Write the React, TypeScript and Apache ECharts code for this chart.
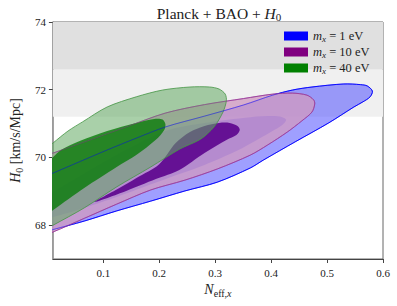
import React, { useEffect, useRef } from 'react';
import * as echarts from 'echarts';

// ---- data ----
const masses = [1, 10, 40];
const seriesNames = masses.map((m) => `m_x = ${m} eV`);
const xTicks = [0.1, 0.2, 0.3, 0.4, 0.5, 0.6];
const yTicks = [68, 70, 72, 74];
const xRange = [0.01, 0.6];
const yRange = [67, 74];
const h0Band2sigma = [71.2, 72.6];
const h0Band1sigma = [72.6, 74];

// contour outlines (N_eff,x , H0)
const blue2sigma = [
  [-0.03, 69.25], [0.0105, 69.54], [0.107, 70.22], [0.159, 70.57], [0.211, 70.9], [0.281, 71.22],
  [0.351, 71.55], [0.403, 71.84], [0.438, 71.99], [0.473, 72.08], [0.53, 72.17], [0.56, 72.15],
  [0.572, 72.11], [0.581, 71.96], [0.577, 71.79], [0.564, 71.64], [0.548, 71.49], [0.503, 71.02],
  [0.443, 70.46], [0.386, 69.92], [0.363, 69.69], [0.304, 69.27], [0.246, 69.01], [0.185, 68.71],
  [0.124, 68.42], [0.066, 68.12], [0.0105, 67.87], [-0.03, 67.69],
];
const blue1sigma = [
  [-0.03, 68.58], [0.0105, 68.98], [0.107, 69.92], [0.211, 70.78], [0.281, 71.02], [0.363, 71.19],
  [0.403, 71.22], [0.42, 71.19], [0.427, 71.11], [0.42, 70.96], [0.38, 70.57], [0.338, 70.19],
  [0.281, 69.78], [0.236, 69.51], [0.183, 69.19], [0.124, 68.83], [0.066, 68.51], [0.0105, 68.24],
  [-0.03, 68.05],
];
const purple2sigma = [
  [-0.03, 69.89], [0.0105, 70.13], [0.072, 70.49], [0.141, 70.9], [0.211, 71.31], [0.281, 71.56],
  [0.351, 71.74], [0.403, 71.87], [0.438, 71.9], [0.464, 71.84], [0.476, 71.7], [0.478, 71.58],
  [0.473, 71.34], [0.455, 71.08], [0.429, 70.75], [0.394, 70.37], [0.363, 70.07], [0.304, 69.66],
  [0.246, 69.33], [0.185, 69.04], [0.124, 68.62], [0.066, 68.2], [0.0105, 67.8], [-0.03, 67.55],
];
const purple1sigma = [
  [0.084, 68.68], [0.124, 69.05], [0.16, 69.4], [0.2, 69.8], [0.229, 70.42], [0.255, 70.75],
  [0.281, 70.93], [0.307, 71.02], [0.326, 71.02], [0.34, 70.93], [0.344, 70.81], [0.338, 70.66],
  [0.321, 70.52], [0.281, 70.13], [0.236, 69.63], [0.194, 69.36], [0.141, 69.01],
];
const green2sigma = [
  [-0.03, 69.88], [0.0105, 70.43], [0.037, 70.78], [0.063, 71.05], [0.107, 71.49], [0.159, 71.79],
  [0.206, 71.99], [0.255, 72.08], [0.29, 72.08], [0.307, 72.02], [0.318, 71.87], [0.32, 71.67],
  [0.314, 71.34], [0.298, 70.9], [0.274, 70.54], [0.237, 70.25], [0.185, 69.72], [0.124, 69.13],
  [0.066, 68.51], [0.0105, 68.0], [-0.03, 67.64],
];
const green1sigma = [
  [-0.03, 69.41], [0.0105, 70.01], [0.0245, 70.22], [0.059, 70.49], [0.107, 70.78], [0.159, 71.02],
  [0.194, 71.14], [0.206, 71.12], [0.211, 70.99], [0.209, 70.81], [0.194, 70.52], [0.159, 70.07],
  [0.124, 69.72], [0.066, 69.1], [0.0105, 68.45], [-0.03, 67.98],
];

const FONT = "'Liberation Serif', 'DejaVu Serif', serif";

const styles = [
  { legend: '#0000ff', fill2: 'rgba(80,80,255,0.55)', fill1: 'rgba(0,0,255,0.45)', stroke: '#0000ff', overlay: 'rgba(0,0,255,0.55)' },
  { legend: '#800080', fill2: 'rgba(207,154,194,0.78)', fill1: 'rgba(90,0,140,0.88)', stroke: '#a040a0', overlay: 'rgba(150,60,150,0.55)' },
  { legend: '#008000', fill2: 'rgba(98,169,98,0.55)', fill1: 'rgba(0,120,0,0.75)', stroke: 'rgba(70,150,70,0.9)', overlay: null },
];
const contours = [
  [blue2sigma, blue1sigma],
  [purple2sigma, purple1sigma],
  [green2sigma, green1sigma],
];

function contourSeries(i: number) {
  const [outer, inner] = contours[i];
  const st = styles[i];
  return {
    type: 'custom',
    name: seriesNames[i],
    coordinateSystem: 'cartesian2d',
    clip: true,
    z: 2,
    silent: true,
    itemStyle: { color: st.legend },
    data: [outer[1]],
    encode: { x: 0, y: 1 },
    renderItem: (_params: any, api: any) => {
      const p2 = outer.map((pt) => api.coord(pt));
      const p1 = inner.map((pt) => api.coord(pt));
      return {
        type: 'group',
        children: [
          { type: 'polygon', shape: { points: p2, smooth: 0.3 }, style: { fill: st.fill2, stroke: st.stroke, lineWidth: 0.9 } },
          { type: 'polygon', shape: { points: p1, smooth: 0.3 }, style: { fill: st.fill1, stroke: 'none' } },
        ],
      };
    },
  };
}

function overlaySeries(i: number) {
  const [outer] = contours[i];
  const st = styles[i];
  return {
    type: 'custom',
    name: 'overlay' + i,
    coordinateSystem: 'cartesian2d',
    clip: true,
    z: 3,
    silent: true,
    data: [outer[1]],
    encode: { x: 0, y: 1 },
    renderItem: (_params: any, api: any) => ({
      type: 'polygon',
      shape: { points: outer.map((pt) => api.coord(pt)), smooth: 0.3 },
      style: { fill: 'none', stroke: st.overlay, lineWidth: 0.8 },
    }),
  };
}

const makeRich = (big: number, small: number, drop: number, lh: number) => ({
  n: { fontFamily: FONT, fontSize: big, fontWeight: 'normal', color: '#222', verticalAlign: 'top', lineHeight: lh },
  i: { fontFamily: FONT, fontSize: big, fontWeight: 'normal', fontStyle: 'italic', color: '#222', verticalAlign: 'top', lineHeight: lh },
  s: { fontFamily: FONT, fontSize: small, fontWeight: 'normal', color: '#222', verticalAlign: 'bottom', padding: [drop, 0, 0, 0] },
  si: { fontFamily: FONT, fontSize: small, fontWeight: 'normal', fontStyle: 'italic', color: '#222', verticalAlign: 'bottom', padding: [drop, 0, 0, 0] },
});
const richTitle = makeRich(15.5, 11, 5, 17);
const richAxis = makeRich(14, 10, 5, 16);
const richLegend = makeRich(12.5, 9, 4, 14);

export default function App() {
  const ref = useRef<HTMLDivElement>(null);
  useEffect(() => {
    if (!ref.current) return;
    const chart = echarts.init(ref.current, null, { renderer: 'svg' });
    const option: any = {
      animation: false,
      backgroundColor: '#ffffff',
      title: {
        text: '{n|Planck + BAO + }{i|H}{s|0}',
        left: 214,
        textAlign: 'center',
        top: 0,
        textStyle: { rich: richTitle, fontFamily: FONT, fontSize: 15.5, fontWeight: 'normal' },
      },
      legend: {
        data: seriesNames,
        orient: 'vertical',
        left: 284,
        top: 29,
        padding: 0,
        icon: 'rect',
        itemWidth: 24,
        itemHeight: 9,
        itemGap: 2,
        selectedMode: false,
        itemStyle: { borderWidth: 0 },
        textStyle: { rich: richLegend, fontFamily: FONT, fontSize: 12.5 },
        formatter: (name: string) => {
          const idx = seriesNames.indexOf(name);
          return `{i|m}{si|x}{n| = ${masses[idx]} eV}`;
        },
      },
      grid: {
        left: 45, right: 14, top: 22, bottom: 47,
        show: true, borderColor: '#666', borderWidth: 1, backgroundColor: 'transparent',
      },
      xAxis: {
        type: 'value',
        min: xRange[0],
        max: xRange[1],
        name: '{i|N}{s|eff,}{si|x}',
        nameLocation: 'middle',
        nameGap: 22,
        nameTextStyle: { rich: richAxis, fontFamily: FONT, fontSize: 14 },
        axisLine: { show: true, onZero: false, lineStyle: { color: '#444', width: 1 } },
        axisTick: { show: true, inside: false, length: 4, customValues: xTicks, lineStyle: { color: '#444' } },
        axisLabel: { customValues: xTicks, margin: 8, fontFamily: FONT, fontSize: 11, color: '#222', formatter: (v: number) => v.toFixed(1) },
        splitLine: { show: false },
      },
      yAxis: {
        type: 'value',
        min: yRange[0],
        max: yRange[1],
        name: '{i|H}{s|0}{n| [km/s/Mpc]}',
        nameLocation: 'middle',
        nameRotate: 90,
        nameGap: 27,
        nameTextStyle: { rich: richAxis, fontFamily: FONT, fontSize: 14 },
        axisLine: { show: true, onZero: false, lineStyle: { color: '#999', width: 1.5 } },
        axisTick: { show: true, inside: false, length: 4, customValues: yTicks, lineStyle: { color: '#444' } },
        axisLabel: { customValues: yTicks, margin: 7, fontFamily: FONT, fontSize: 11, color: '#222' },
        splitLine: { show: false },
      },
      series: [
        {
          type: 'line',
          name: 'bands',
          data: [],
          z: 1,
          silent: true,
          markArea: {
            silent: true,
            data: [
              [{ yAxis: h0Band2sigma[0], itemStyle: { color: '#f0f0f0' } }, { yAxis: h0Band2sigma[1] }],
              [{ yAxis: h0Band1sigma[0], itemStyle: { color: '#e0e0e0' } }, { yAxis: h0Band1sigma[1] }],
            ],
          },
        },
        contourSeries(0),
        contourSeries(1),
        contourSeries(2),
        overlaySeries(0),
        overlaySeries(1),
      ],
    };
    chart.setOption(option);
    return () => chart.dispose();
  }, []);
  return <div ref={ref} style={{ width: 397, height: 306, position: 'absolute', left: 0, top: 0 }} />;
}
